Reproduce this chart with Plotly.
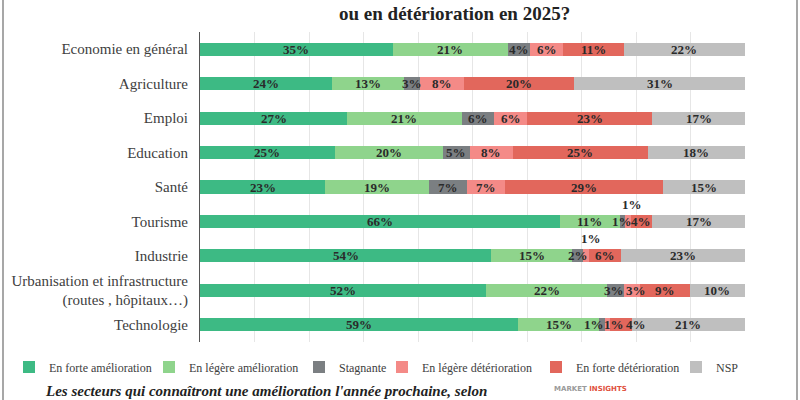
import plotly.graph_objects as go

categories = ["Economie en général", "Agriculture", "Emploi", "Education", "Santé",
              "Tourisme", "Industrie", "Urbanisation et infrastructure<br>(routes , hôpitaux…)",
              "Technologie"]

series_names = ["En forte amélioration", "En légère amélioration", "Stagnante",
                "En légère détérioration", "En forte détérioration", "NSP"]

forte_amelioration = [35, 24, 27, 25, 23, 66, 54, 52, 59]
legere_amelioration = [21, 13, 21, 20, 19, 11, 15, 22, 15]
stagnante = [4, 3, 6, 5, 7, 1, 2, 3, 1]
legere_deterioration = [6, 8, 6, 8, 7, 1, 1, 3, 1]
forte_deterioration = [11, 20, 23, 25, 29, 4, 6, 9, 4]
nsp = [22, 31, 17, 18, 15, 17, 23, 10, 21]

# labels drawn above the bar instead of inside (series index, category index)
above_labels = [(3, 5), (3, 6)]
# small horizontal nudges (px) for crowded labels
label_nudge = {(2, 8): -8, (3, 8): 7, (4, 8): 15, (3, 5): 4, (3, 6): 5,
               (2, 7): -2, (3, 7): 4}

colors = ["#3dba84", "#8fd48c", "#7b7f82", "#f48a87", "#e2675c", "#bfbfbf"]

series_values = [forte_amelioration, legere_amelioration, stagnante,
                 legere_deterioration, forte_deterioration, nsp]

SERIF = "Liberation Serif"

# layout geometry (pixels)
W, H = 800, 400
ML, MR, MT, MB = 200, 55, 32, 58
PW, PH = W - ML - MR, H - MT - MB


def px_x(x):
    return (x - ML) / PW


def px_y(y):
    return (H - MB - y) / PH


# legend text start positions in the reference (pixels)
legend_text_x = [50, 190, 340, 423, 577, 717]

fig = go.Figure()
for si, (name, vals, col) in enumerate(zip(series_names, series_values, colors)):
    fig.add_trace(go.Bar(
        y=categories, x=vals, name=name, orientation="h",
        marker=dict(color=col, line=dict(width=0)),
        hoverinfo="skip",
        legend="legend" if si == 0 else f"legend{si + 1}",
    ))

# value labels (drawn on top of all bars), positioned from the normalised data
label_font = dict(family=SERIF, size=13, color="#2a2a2a", weight="bold")
totals = [sum(series_values[k][ci] for k in range(len(series_values)))
          for ci in range(len(categories))]
for si, vals in enumerate(series_values):
    for ci, v in enumerate(vals):
        start = sum(series_values[k][ci] for k in range(si))
        center = (start + v / 2) / totals[ci] * 100
        fig.add_annotation(x=center, y=categories[ci], text=f"{v}%",
                           showarrow=False,
                           xshift=label_nudge.get((si, ci), 0),
                           yshift=17 if (si, ci) in above_labels else 0,
                           font=label_font)

legend_common = dict(orientation="h", xanchor="left", yanchor="middle",
                     y=px_y(367), bgcolor="rgba(0,0,0,0)", borderwidth=0,
                     font=dict(family=SERIF, size=12, color="#404040"),
                     itemwidth=30)
legends = {}
for i, tx in enumerate(legend_text_x):
    key = "legend" if i == 0 else f"legend{i + 1}"
    legends[key] = dict(legend_common, x=px_x(tx - 41))

fig.update_layout(
    width=W, height=H,
    margin=dict(l=ML, r=MR, t=MT, b=MB, autoexpand=False),
    barmode="stack", barnorm="percent", bargap=0.62,
    plot_bgcolor="white", paper_bgcolor="white",
    font=dict(family=SERIF, color="#404040"),
    xaxis=dict(range=[0, 100], dtick=10, showgrid=True, gridcolor="#e6e6e6",
               showticklabels=False, zeroline=False, fixedrange=True),
    yaxis=dict(autorange="reversed", showline=True, linecolor="#555555", linewidth=1,
               ticks="", tickfont=dict(family=SERIF, size=15, color="#404040"),
               ticklabelstandoff=8, automargin=False),
    showlegend=True,
    **legends,
)

# title (visible line)
fig.add_annotation(xref="paper", yref="paper", x=px_x(454), y=px_y(13), xanchor="center",
                   yanchor="middle", showarrow=False,
                   text="<b>ou en détérioration en 2025?</b>",
                   font=dict(family=SERIF, size=19, color="#222222"))

# bottom caption
fig.add_annotation(xref="paper", yref="paper", x=px_x(43), y=px_y(391), xanchor="left",
                   yanchor="middle", showarrow=False,
                   text="<b><i>Les secteurs qui connaîtront une amélioration l'année prochaine, selon</i></b>",
                   font=dict(family=SERIF, size=15, color="#222222"))

# logo text
fig.add_annotation(xref="paper", yref="paper", x=px_x(552), y=px_y(389), xanchor="left",
                   yanchor="middle", showarrow=False,
                   text="<span style='color:#9a9a9a'>MARKET</span> <span style='color:#e0503c'>INSIGHTS</span>",
                   font=dict(family="DejaVu Sans", size=7, weight="bold"))

# frame
for fx in (3, 797):
    fig.add_shape(type="line", xref="paper", yref="paper", x0=px_x(fx), x1=px_x(fx),
                  y0=px_y(410), y1=px_y(-10), line=dict(color="#8a8a8a", width=1.5))

fig.write_html("out.html", config={"displayModeBar": False},
               post_script="document.body.style.margin='0';document.body.style.overflow='hidden';")
